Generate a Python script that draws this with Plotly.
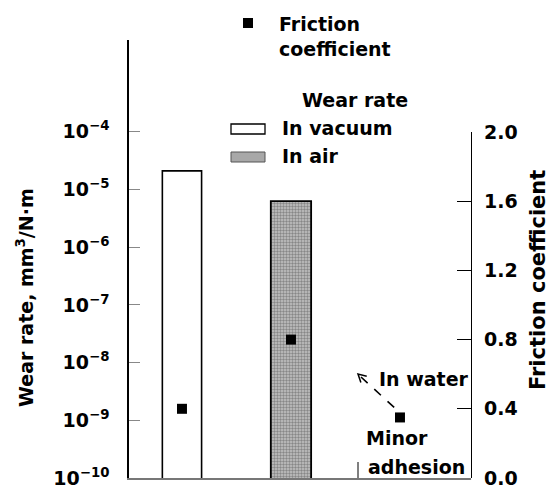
import math
import plotly.graph_objects as go

# ---------------- data ----------------
categories = ["In vacuum", "In air", "In water"]
wear_cats = ["In vacuum", "In air"]
wear_rate = [2.1e-5, 6.3e-6]          # mm3/N·m
friction = [0.40, 0.80, 0.35]
left_tickvals = [1e-10, 1e-9, 1e-8, 1e-7, 1e-6, 1e-5, 1e-4]
left_ticktext = ["10<sup>−10</sup>", "10<sup>−9</sup>", "10<sup>−8</sup>", "10<sup>−7</sup>",
                 "10<sup>−6</sup>", "10<sup>−5</sup>", "10<sup>−4</sup>"]
right_tickvals = [0.0, 0.4, 0.8, 1.2, 1.6, 2.0]
right_ticktext = ["0.0", "0.4", "0.8", "1.2", "1.6", "2.0"]

# ---------------- layout geometry ----------------
W, H = 552, 489
L, R, T, B = 129, 81, 40, 11
PW, PH = W - L - R, H - T - B
FONT = "DejaVu Sans"

def px(x):
    return (x - L) / PW

def py(y):
    return 1 - (y - T) / PH

fig = go.Figure()

fig.add_trace(go.Bar(
    x=[wear_cats[0]], y=[wear_rate[0]], width=0.36,
    marker=dict(color="white", line=dict(color="black", width=1.6)),
    showlegend=False, xaxis="x", yaxis="y"))
fig.add_trace(go.Bar(
    x=[wear_cats[1]], y=[wear_rate[1]], width=0.37,
    marker=dict(color="#a8a8a8", line=dict(color="black", width=1.8),
                pattern=dict(shape=".", fgcolor="#4a4a4a", bgcolor="#c4c4c4",
                             size=3, solidity=0.5)),
    showlegend=False, xaxis="x", yaxis="y"))
fig.add_trace(go.Scatter(
    x=categories, y=friction, mode="markers",
    marker=dict(symbol="square", size=10, color="black"),
    showlegend=False, xaxis="x", yaxis="y2"))

top_dec = -10 + PH / 57.7
bottom_frac = 346 / PH

fig.update_layout(
    width=W, height=H, margin=dict(l=L, r=R, t=T, b=B, autoexpand=False),
    paper_bgcolor="white", plot_bgcolor="rgba(0,0,0,0)",
    font=dict(family=FONT, size=19, color="black", weight="bold"),
    barmode="overlay",
    xaxis=dict(type="category", categoryorder="array", categoryarray=categories,
               range=[-0.486, -0.486 + PW / 109], showticklabels=False, ticks="",
               showline=True, linecolor="#777777", linewidth=1.5, showgrid=False,
               zeroline=False, automargin=False),
    yaxis=dict(type="log", range=[-10, top_dec], tickvals=left_tickvals,
               ticktext=left_ticktext, ticks="inside", ticklen=11, tickcolor="#888888",
               tickwidth=1, showline=True, linecolor="black", linewidth=1.6,
               showgrid=False, zeroline=False, ticklabelstandoff=14, automargin=False,
               tickfont=dict(family=FONT, size=19, weight="bold")),
    yaxis2=dict(domain=[0, bottom_frac], range=[0, 2.0], anchor="x", side="right",
                tickvals=right_tickvals, ticktext=right_ticktext, ticks="inside",
                ticklen=14, tickcolor="black", tickwidth=1, showline=True,
                linecolor="black", linewidth=1.4, showgrid=False, zeroline=False,
                ticklabelstandoff=8, automargin=False,
                tickfont=dict(family=FONT, size=19, weight="bold")),
)

def ann(text, x, y, xanchor="left", size=19, angle=0):
    fig.add_annotation(text=text, x=px(x), y=py(y), xref="paper", yref="paper",
                       xanchor=xanchor, yanchor="middle", showarrow=False,
                       textangle=angle,
                       font=dict(family=FONT, size=size, color="black", weight="bold"))

# axis titles
ann("Wear rate, mm<sup>3</sup>/N·m", 25, 298, xanchor="center", size=19, angle=-90)
ann("Friction coefficient", 538, 280, xanchor="center", size=21, angle=-90)

# legend
fig.add_shape(type="rect", xref="paper", yref="paper",
              x0=px(243), x1=px(253), y0=py(18), y1=py(28),
              fillcolor="black", line=dict(width=0))
ann("Friction", 277, 24)
ann("coefficient", 277, 49)
ann("Wear rate", 355, 100, xanchor="center")
fig.add_shape(type="rect", xref="paper", yref="paper",
              x0=px(231), x1=px(265), y0=py(124), y1=py(134),
              fillcolor="white", line=dict(color="black", width=1.3))
ann("In vacuum", 280, 128)
fig.add_shape(type="rect", xref="paper", yref="paper",
              x0=px(231), x1=px(265), y0=py(152), y1=py(162),
              fillcolor="#a8a8a8", line=dict(color="#555555", width=1))
ann("In air", 280, 156)

# In water annotation with dashed arrow
hx, hy = 358, 374
tx, ty = 397, 410
fig.add_shape(type="line", xref="paper", yref="paper",
              x0=px(hx + 3), y0=py(hy + 3), x1=px(tx), y1=py(ty),
              line=dict(color="black", width=1.6, dash="dash"))
dx, dy = tx - hx, ty - hy
n = math.hypot(dx, dy)
ux, uy = dx / n, dy / n
arms = []
for a in (0.5, -0.5):
    ca, sa = math.cos(a), math.sin(a)
    arms.append((hx + 9 * (ux * ca - uy * sa), hy + 9 * (ux * sa + uy * ca)))
path = "M {} {} L {} {} L {} {}".format(px(arms[0][0]), py(arms[0][1]), px(hx), py(hy),
                                        px(arms[1][0]), py(arms[1][1]))
fig.add_shape(type="path", xref="paper", yref="paper", path=path,
              line=dict(color="black", width=1.5))
ann("In water", 377, 379, size=19)
ann("Minor", 364, 438, size=19)
ann("adhesion", 366, 467, size=19)
fig.add_shape(type="line", xref="paper", yref="paper",
              x0=px(358), x1=px(358), y0=py(462), y1=py(478),
              line=dict(color="black", width=1))

fig.write_html("out.html", config={"displayModeBar": False},
               post_script="document.body.style.margin='0';document.body.style.overflow='hidden';")
